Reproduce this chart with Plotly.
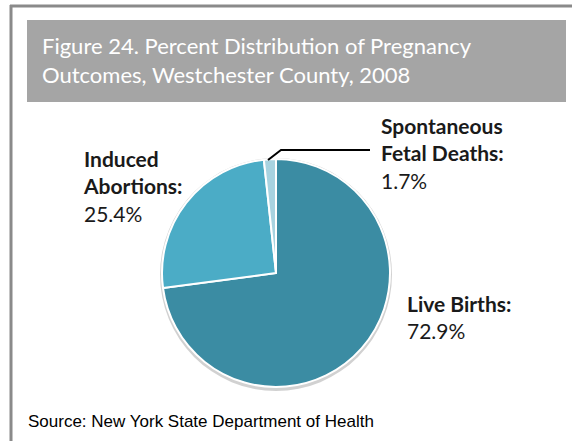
import plotly.graph_objects as go

# ---- data ----
categories = ["Live Births", "Induced Abortions", "Spontaneous Fetal Deaths"]
values = [72.9, 25.4, 1.7]
label_text = ["Live Births:", "Induced<br>Abortions:", "Spontaneous<br>Fetal Deaths:"]
colors = ["#3B8CA3", "#4BACC6", "#A8D3E0"]
title_text = "Figure 24. Percent Distribution of Pregnancy<br>Outcomes, Westchester County, 2008"
source_text = "Source: New York State Department of Health"

W, H = 572, 441


def px(x):
    return x / W


def py(y):
    return 1 - y / H


cx, cy, r = 276, 273, 114

fig = go.Figure()
fig.add_trace(go.Pie(
    labels=categories,
    values=values,
    sort=False,
    direction="clockwise",
    rotation=0,
    marker=dict(colors=colors, line=dict(color="white", width=2)),
    textinfo="none",
    hoverinfo="label+percent",
    showlegend=False,
    domain=dict(x=[px(cx - r), px(cx + r)], y=[py(cy + r), py(cy - r)]),
))

shapes = [
    # outer frame: left edge
    dict(type="line", xref="paper", yref="paper", x0=px(11), x1=px(11), y0=0, y1=py(5),
         line=dict(color="#8a8a8a", width=3), layer="below"),
    # outer frame: top edge
    dict(type="line", xref="paper", yref="paper", x0=px(10), x1=1, y0=py(6), y1=py(6),
         line=dict(color="#8a8a8a", width=3), layer="below"),
    # title box
    dict(type="rect", xref="paper", yref="paper", x0=px(27), x1=px(566), y0=py(102), y1=py(20),
         line=dict(width=0), fillcolor="#A5A5A5", layer="below"),
    # soft shadow around pie
    dict(type="circle", xref="paper", yref="paper", x0=px(cx - r - 2), x1=px(cx + r + 2),
         y0=py(cy + r + 4), y1=py(cy - r - 1),
         line=dict(width=0), fillcolor="rgba(0,0,0,0.18)", layer="below"),
    # leader line for the small slice
    dict(type="path", xref="paper", yref="paper",
         path=f"M {px(268)},{py(160)} L {px(281)},{py(150)} L {px(370)},{py(150)}",
         line=dict(color="black", width=2)),
]

label_font = dict(family="Lato", size=21, color="#1a1a1a")
pos = [(405, 289), (81, 144), (379, 111)]
annotations = []
for lab, v, (x, y) in zip(label_text, values, pos):
    annotations.append(dict(
        x=px(x), y=py(y), xref="paper", yref="paper", xanchor="left", yanchor="top",
        text=f"<b>{lab}</b><br>{v:.1f}%", showarrow=False, align="left", font=label_font,
    ))

annotations.append(dict(
    x=px(40), y=py(30), xref="paper", yref="paper", xanchor="left", yanchor="top",
    text=title_text, showarrow=False, align="left",
    font=dict(family="Lato", size=22, color="white"),
))
annotations.append(dict(
    x=px(26), y=py(410), xref="paper", yref="paper", xanchor="left", yanchor="top",
    text=source_text, showarrow=False, align="left",
    font=dict(family="Liberation Sans", size=17, color="black"),
))

fig.update_layout(
    width=W, height=H,
    margin=dict(l=0, r=0, t=0, b=0),
    paper_bgcolor="white",
    plot_bgcolor="white",
    shapes=shapes,
    annotations=annotations,
)

fig.write_html(
    "out.html",
    config={"displayModeBar": False},
    post_script="document.body.style.margin='0px';"
                "document.body.style.overflow='hidden';"
                "document.documentElement.style.overflow='hidden';",
)
